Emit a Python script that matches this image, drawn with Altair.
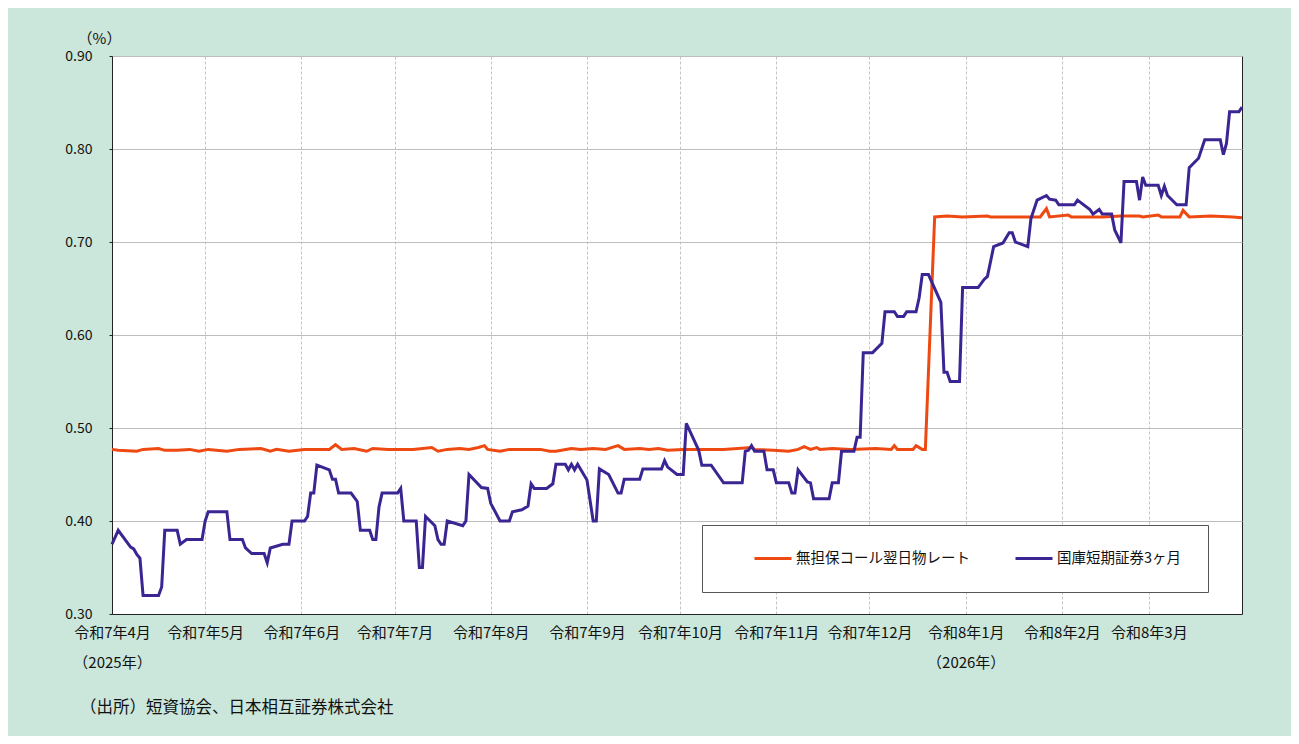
import json
import altair as alt
import pandas as pd

CALL_LABEL = "無担保コール翌日物レート"
TB_LABEL = "国庫短期証券3ヶ月"

# 無担保コール翌日物レート (%)
call_dates = [
    "2025-04-01", "2025-04-03", "2025-04-09", "2025-04-11", "2025-04-16", "2025-04-18",
    "2025-04-22", "2025-04-26", "2025-04-29", "2025-05-02", "2025-05-08", "2025-05-12",
    "2025-05-19", "2025-05-22", "2025-05-24", "2025-05-28", "2025-06-02", "2025-06-10",
    "2025-06-12", "2025-06-14", "2025-06-18", "2025-06-22", "2025-06-24", "2025-06-29",
    "2025-07-07", "2025-07-13", "2025-07-15", "2025-07-18", "2025-07-22", "2025-07-25",
    "2025-07-28", "2025-07-30", "2025-07-31", "2025-08-04", "2025-08-07", "2025-08-17",
    "2025-08-20", "2025-08-22", "2025-08-27", "2025-08-30", "2025-09-03", "2025-09-07",
    "2025-09-11", "2025-09-13", "2025-09-18", "2025-09-21", "2025-09-24", "2025-09-27",
    "2025-10-02", "2025-10-08", "2025-10-15", "2025-10-24", "2025-10-25", "2025-10-31",
    "2025-11-05", "2025-11-08", "2025-11-10", "2025-11-12", "2025-11-14", "2025-11-15",
    "2025-11-19", "2025-11-25", "2025-12-03", "2025-12-08", "2025-12-09", "2025-12-10",
    "2025-12-15", "2025-12-16", "2025-12-18", "2025-12-19", "2025-12-22", "2025-12-26",
    "2025-12-31", "2026-01-08", "2026-01-09", "2026-01-25", "2026-01-27", "2026-01-28",
    "2026-02-03", "2026-02-04", "2026-02-14", "2026-02-20", "2026-02-26", "2026-02-27",
    "2026-03-04", "2026-03-05", "2026-03-11", "2026-03-12", "2026-03-14", "2026-03-21",
    "2026-03-28", "2026-03-31",
]
call_vals = [
    0.477, 0.476, 0.475, 0.477, 0.478, 0.476,
    0.476, 0.477, 0.475, 0.477, 0.475, 0.477,
    0.478, 0.475, 0.477, 0.475, 0.477, 0.477,
    0.482, 0.477, 0.478, 0.475, 0.478, 0.477,
    0.477, 0.479, 0.475, 0.477, 0.478, 0.477,
    0.479, 0.481, 0.477, 0.475, 0.477, 0.477,
    0.475, 0.475, 0.478, 0.477, 0.478, 0.477,
    0.481, 0.477, 0.478, 0.477, 0.478, 0.476,
    0.477, 0.477, 0.477, 0.479, 0.477, 0.476,
    0.475, 0.477, 0.480, 0.477, 0.479, 0.477,
    0.478, 0.477, 0.478, 0.477, 0.481, 0.477,
    0.477, 0.481, 0.477, 0.477, 0.727, 0.728,
    0.727, 0.728, 0.727, 0.727, 0.736, 0.727,
    0.729, 0.727, 0.727, 0.728, 0.728, 0.727,
    0.729, 0.727, 0.727, 0.734, 0.727, 0.728,
    0.727, 0.726,
]

# 国庫短期証券3ヶ月 (%)
tb_dates = [
    "2025-04-01", "2025-04-03", "2025-04-07", "2025-04-08", "2025-04-09", "2025-04-10",
    "2025-04-11", "2025-04-16", "2025-04-17", "2025-04-18", "2025-04-22", "2025-04-23",
    "2025-04-25", "2025-04-30", "2025-05-01", "2025-05-02", "2025-05-08", "2025-05-09",
    "2025-05-13", "2025-05-14", "2025-05-16", "2025-05-20", "2025-05-21", "2025-05-22",
    "2025-05-26", "2025-05-28", "2025-05-29", "2025-06-02", "2025-06-03", "2025-06-04",
    "2025-06-05", "2025-06-06", "2025-06-10", "2025-06-11", "2025-06-12", "2025-06-13",
    "2025-06-17", "2025-06-19", "2025-06-20", "2025-06-23", "2025-06-24", "2025-06-25",
    "2025-06-26", "2025-06-27", "2025-07-02", "2025-07-03", "2025-07-04", "2025-07-08",
    "2025-07-09", "2025-07-10", "2025-07-11", "2025-07-14", "2025-07-15", "2025-07-16",
    "2025-07-17", "2025-07-18", "2025-07-23", "2025-07-24", "2025-07-25", "2025-07-29",
    "2025-07-31", "2025-08-01", "2025-08-04", "2025-08-07", "2025-08-08", "2025-08-11",
    "2025-08-13", "2025-08-14", "2025-08-15", "2025-08-19", "2025-08-21", "2025-08-22",
    "2025-08-25", "2025-08-26", "2025-08-27", "2025-08-28", "2025-08-29", "2025-09-01",
    "2025-09-03", "2025-09-04", "2025-09-05", "2025-09-08", "2025-09-11", "2025-09-12",
    "2025-09-13", "2025-09-18", "2025-09-19", "2025-09-25", "2025-09-26", "2025-09-27",
    "2025-09-30", "2025-10-02", "2025-10-03", "2025-10-07", "2025-10-08", "2025-10-11",
    "2025-10-15", "2025-10-21", "2025-10-22", "2025-10-23", "2025-10-24", "2025-10-25",
    "2025-10-28", "2025-10-29", "2025-10-31", "2025-11-01", "2025-11-05", "2025-11-06",
    "2025-11-07", "2025-11-08", "2025-11-11", "2025-11-12", "2025-11-13", "2025-11-18",
    "2025-11-19", "2025-11-21", "2025-11-22", "2025-11-26", "2025-11-27", "2025-11-28",
    "2025-11-29", "2025-12-02", "2025-12-05", "2025-12-06", "2025-12-09", "2025-12-10",
    "2025-12-12", "2025-12-13", "2025-12-16", "2025-12-17", "2025-12-18", "2025-12-20",
    "2025-12-24", "2025-12-25", "2025-12-26", "2025-12-27", "2025-12-30", "2025-12-31",
    "2026-01-05", "2026-01-07", "2026-01-08", "2026-01-10", "2026-01-13", "2026-01-15",
    "2026-01-16", "2026-01-17", "2026-01-21", "2026-01-22", "2026-01-24", "2026-01-27",
    "2026-01-28", "2026-01-30", "2026-01-31", "2026-02-05", "2026-02-06", "2026-02-10",
    "2026-02-11", "2026-02-13", "2026-02-14", "2026-02-17", "2026-02-18", "2026-02-20",
    "2026-02-21", "2026-02-25", "2026-02-26", "2026-02-27", "2026-02-28", "2026-03-04",
    "2026-03-05", "2026-03-06", "2026-03-07", "2026-03-10", "2026-03-13", "2026-03-14",
    "2026-03-17", "2026-03-19", "2026-03-24", "2026-03-25", "2026-03-26", "2026-03-27",
    "2026-03-30", "2026-03-31",
]
tb_vals = [
    0.375, 0.390, 0.372, 0.370, 0.364, 0.360,
    0.320, 0.320, 0.329, 0.390, 0.390, 0.375,
    0.380, 0.380, 0.400, 0.410, 0.410, 0.380,
    0.380, 0.371, 0.365, 0.365, 0.355, 0.371,
    0.375, 0.375, 0.400, 0.400, 0.405, 0.430,
    0.430, 0.460, 0.455, 0.445, 0.445, 0.430,
    0.430, 0.421, 0.390, 0.390, 0.380, 0.380,
    0.415, 0.430, 0.430, 0.435, 0.400, 0.400,
    0.350, 0.350, 0.405, 0.395, 0.380, 0.375,
    0.375, 0.400, 0.395, 0.400, 0.450, 0.436,
    0.435, 0.419, 0.400, 0.400, 0.410, 0.412,
    0.416, 0.440, 0.435, 0.435, 0.440, 0.461,
    0.461, 0.455, 0.461, 0.455, 0.461, 0.444,
    0.400, 0.400, 0.456, 0.450, 0.430, 0.430,
    0.445, 0.445, 0.456, 0.456, 0.465, 0.458,
    0.450, 0.450, 0.505, 0.476, 0.460, 0.460,
    0.441, 0.441, 0.475, 0.476, 0.481, 0.475,
    0.475, 0.455, 0.455, 0.441, 0.441, 0.430,
    0.430, 0.455, 0.442, 0.441, 0.424, 0.424,
    0.441, 0.441, 0.475, 0.475, 0.490, 0.490,
    0.581, 0.581, 0.591, 0.625, 0.625, 0.620,
    0.620, 0.625, 0.625, 0.640, 0.665, 0.665,
    0.635, 0.560, 0.560, 0.550, 0.550, 0.651,
    0.651, 0.660, 0.663, 0.695, 0.699, 0.710,
    0.710, 0.700, 0.695, 0.725, 0.745, 0.750,
    0.746, 0.745, 0.740, 0.740, 0.745, 0.735,
    0.730, 0.735, 0.730, 0.730, 0.713, 0.699,
    0.765, 0.765, 0.745, 0.770, 0.761, 0.761,
    0.750, 0.760, 0.750, 0.740, 0.740, 0.780,
    0.790, 0.810, 0.810, 0.794, 0.806, 0.840,
    0.840, 0.845,
]

tick_dates = [
    "2025-04-01", "2025-05-01", "2025-06-01", "2025-07-01", "2025-08-01", "2025-09-01",
    "2025-10-01", "2025-11-01", "2025-12-01", "2026-01-01", "2026-02-01", "2026-03-01",
]
tick_labels = [
    "令和7年4月", "令和7年5月", "令和7年6月", "令和7年7月", "令和7年8月", "令和7年9月",
    "令和7年10月", "令和7年11月", "令和7年12月", "令和8年1月", "令和8年2月", "令和8年3月",
]
year_notes = {"2025-04": "（2025年）", "2026-01": "（2026年）"}
y_ticks = [0.30, 0.40, 0.50, 0.60, 0.70, 0.80, 0.90]

FONT = "Noto Sans CJK JP"
BG = "#cbe6da"
ORANGE = "#ef4912"
PURPLE = "#3b2593"
TEXT = "#111111"

call_df = pd.DataFrame({"date": pd.to_datetime(call_dates), "value": call_vals, "series": CALL_LABEL})
tb_df = pd.DataFrame({"date": pd.to_datetime(tb_dates), "value": tb_vals, "series": TB_LABEL})

label_map = {}
for d, lab in zip(tick_dates, tick_labels):
    key = d[:7]
    lines = [lab]
    if key in year_notes:
        lines.append(year_notes[key])
    label_map[key] = lines
label_expr = json.dumps(label_map, ensure_ascii=False) + "[timeFormat(datum.value, '%Y-%m')]"


def to_dt(s):
    y, m, d = (int(v) for v in s.split("-"))
    return alt.DateTime(year=y, month=m, date=d)


x_enc = alt.X(
    "date:T",
    scale=alt.Scale(domain=[to_dt("2025-04-01"), to_dt("2026-03-31")]),
    axis=alt.Axis(
        values=[to_dt(d) for d in tick_dates],
        labelExpr=label_expr,
        title=None,
        grid=True,
        gridColor="#c4c4c4",
        gridDash=[3, 2],
        gridWidth=1,
        ticks=False,
        domainColor="#222222",
        labelFont=FONT,
        labelFontSize=15,
        labelColor=TEXT,
        labelPadding=11,
        labelLineHeight=30,
        labelOverlap=False,
        labelFlush=False,
        labelBound=False,
    ),
)
y_enc = alt.Y(
    "value:Q",
    scale=alt.Scale(domain=[0.3, 0.9], nice=False, zero=False),
    axis=alt.Axis(
        values=y_ticks,
        format=".2f",
        title="（%）",
        titleAngle=0,
        titleX=-13,
        titleY=-13,
        titleAlign="center",
        titleBaseline="alphabetic",
        titleFont=FONT,
        titleFontSize=15,
        titleFontWeight="normal",
        titleColor=TEXT,
        grid=True,
        gridColor="#bdbdbd",
        gridWidth=1,
        tickSize=3,
        tickColor="#222222",
        domainColor="#222222",
        labelFont=FONT,
        labelFontSize=14,
        labelColor=TEXT,
        labelPadding=17,
    ),
)
color_enc = alt.Color(
    "series:N",
    scale=alt.Scale(domain=[CALL_LABEL, TB_LABEL], range=[ORANGE, PURPLE]),
    sort=[CALL_LABEL, TB_LABEL],
    legend=alt.Legend(
        title=None,
        orient="none",
        legendX=590,
        legendY=469,
        direction="horizontal",
        fillColor="white",
        strokeColor="#555555",
        padding=26,
        symbolType="stroke",
        symbolSize=1369,
        symbolStrokeWidth=3,
        symbolOffset=25,
        clipHeight=15,
        columnPadding=19,
        labelOffset=3,
        labelFont=FONT,
        labelFontSize=14.5,
        labelColor=TEXT,
        labelLimit=400,
    ),
)

orange = alt.Chart(call_df).mark_line(strokeWidth=3).encode(x=x_enc, y=y_enc, color=color_enc)
purple = alt.Chart(tb_df).mark_line(strokeWidth=3).encode(x=x_enc, y=y_enc, color=color_enc)

chart = (
    alt.layer(orange, purple)
    .properties(
        width=1130,
        height=558,
        autosize=alt.AutoSizeParams(type="none"),
        padding={"left": 104, "top": 48, "right": 49, "bottom": 122},
        background=BG,
        title=alt.TitleParams(
            text="（出所）短資協会、日本相互証券株式会社",
            orient="bottom",
            anchor="start",
            frame="group",
            dx=-32,
            offset=30,
            font=FONT,
            fontSize=16.5,
            fontWeight="normal",
            color=TEXT,
        ),
    )
    .configure_view(stroke="#222222", strokeWidth=1, fill="white")
)

chart.save("out.html", embed_options={"renderer": "svg", "actions": False})
